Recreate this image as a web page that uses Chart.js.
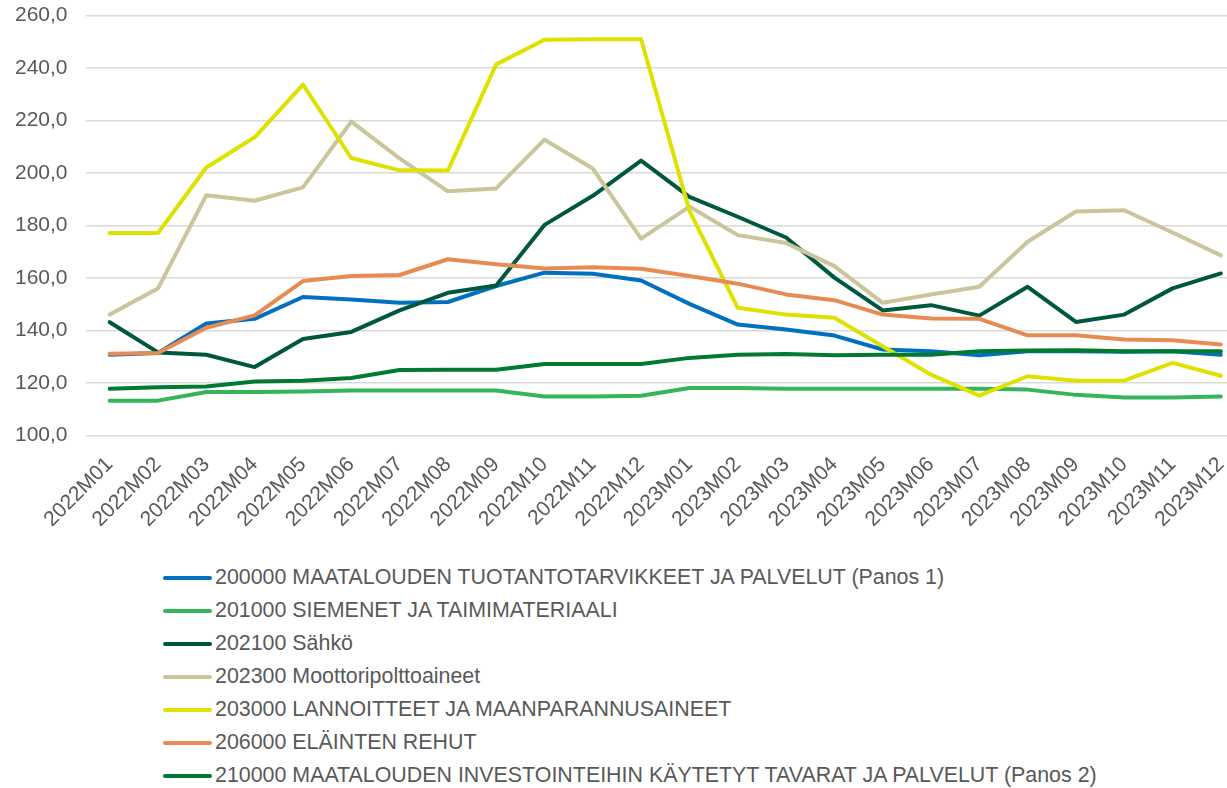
<!DOCTYPE html>
<html>
<head>
<meta charset="utf-8">
<script src="https://cdn.jsdelivr.net/npm/chart.js@4/dist/chart.umd.min.js"></script>
<style>
  html, body { margin: 0; padding: 0; background: #fff; overflow: hidden; width: 1227px; height: 788px; }
  #wrap { position: absolute; left: 0; top: -15px; width: 1250px; height: 556px; }
  #legend { position: absolute; left: 163px; top: 561px; font-family: 'Liberation Sans', Arial, sans-serif; font-size: 21.4px; color: #595959; }
  .row { display: flex; align-items: center; height: 33px; white-space: nowrap; }
  .swatch { width: 49px; height: 4px; border-radius: 2px; margin-right: 3px; }
</style>
</head>
<body>
<div id="wrap"><canvas id="chart" width="1250" height="556"></canvas></div>
<div id="legend"></div>
<script>
//// Data

const months = ['2022M01', '2022M02', '2022M03', '2022M04', '2022M05', '2022M06', '2022M07', '2022M08',
    '2022M09', '2022M10', '2022M11', '2022M12', '2023M01', '2023M02', '2023M03', '2023M04', '2023M05',
    '2023M06', '2023M07', '2023M08', '2023M09', '2023M10', '2023M11', '2023M12'];

const seriesNames = [
    '200000 MAATALOUDEN TUOTANTOTARVIKKEET JA PALVELUT (Panos 1)',
    '201000 SIEMENET JA TAIMIMATERIAALI',
    '202100 Sähkö',
    '202300 Moottoripolttoaineet',
    '203000 LANNOITTEET JA MAANPARANNUSAINEET',
    '206000 ELÄINTEN REHUT',
    '210000 MAATALOUDEN INVESTOINTEIHIN KÄYTETYT TAVARAT JA PALVELUT (Panos 2)'
];

const panos1 = [130.7, 131.4, 142.6, 144.4, 152.7, 151.8, 150.5, 150.8, 156.9, 162.0, 161.6, 159.0,
    150.1, 142.2, 140.3, 138.0, 132.7, 132.0, 130.5, 132.0, 132.0, 131.8, 132.0, 130.7];
const siemenet = [113.2, 113.2, 116.5, 116.5, 116.7, 117.1, 117.1, 117.1, 117.1, 114.8, 114.8, 115.1,
    118.0, 118.0, 117.7, 117.7, 117.7, 117.7, 117.7, 117.4, 115.4, 114.4, 114.4, 114.8];
const sahko = [143.1, 131.6, 130.7, 126.0, 136.7, 139.4, 147.6, 154.3, 157.1, 180.2, 191.3, 204.7,
    190.9, 183.3, 175.4, 160.1, 147.6, 149.6, 145.6, 156.6, 143.2, 146.0, 156.0, 161.7];
const moottori = [146.0, 156.0, 191.5, 189.4, 194.5, 219.6, 205.6, 193.0, 194.1, 212.7, 201.7, 175.0,
    187.2, 176.3, 173.3, 164.5, 150.5, 153.7, 156.6, 173.8, 185.3, 185.8, 177.3, 168.6];
const lannoitteet = [177.1, 177.1, 202.1, 213.6, 233.7, 205.7, 201.0, 200.9, 241.4, 250.8, 251.0, 251.0,
    185.6, 148.6, 146.0, 144.8, 133.9, 123.1, 115.1, 122.5, 120.8, 120.8, 127.6, 122.7];
const rehut = [131.1, 131.4, 141.0, 145.7, 158.8, 160.7, 161.1, 167.1, 165.2, 163.6, 164.1, 163.5,
    160.7, 157.8, 153.7, 151.5, 146.0, 144.5, 144.4, 138.1, 138.1, 136.5, 136.2, 134.6];
const panos2 = [117.7, 118.3, 118.6, 120.5, 120.8, 121.8, 124.9, 125.0, 125.0, 127.2, 127.2, 127.2,
    129.5, 130.7, 131.0, 130.5, 130.7, 130.7, 132.0, 132.3, 132.4, 132.0, 132.0, 132.0];

const seriesValues = [panos1, siemenet, sahko, moottori, lannoitteet, rehut, panos2];
const seriesColors = ['#0070C0', '#35B45A', '#00573F', '#CAC59A', '#DEE200', '#E88B52', '#007A30'];

const yMin = 100, yMax = 260, yStep = 20;

//// Chart

const textColor = '#595959';
const fontFamily = "'Liberation Sans', Arial, sans-serif";

const datasets = seriesNames.map((name, i) => ({
    label: name,
    data: seriesValues[i],
    borderColor: seriesColors[i],
    backgroundColor: seriesColors[i],
    borderWidth: 4,
    pointRadius: 0,
    tension: 0,
    borderJoinStyle: 'round',
    borderCapStyle: 'round',
    // later series are drawn on top, like the original
    order: seriesNames.length - i
}));

new Chart(document.getElementById('chart'), {
    type: 'line',
    data: { labels: months, datasets: datasets },
    options: {
        responsive: false,
        animation: false,
        layout: { padding: { top: 5, left: -3, right: 5, bottom: 0 } },
        plugins: {
            legend: { display: false },
            tooltip: { enabled: false }
        },
        scales: {
            x: {
                offset: true,
                grid: { display: false },
                border: { display: false },
                ticks: {
                    color: textColor,
                    font: { family: fontFamily, size: 21 },
                    minRotation: 45,
                    maxRotation: 45,
                    autoSkip: false,
                    padding: 9
                }
            },
            y: {
                min: yMin,
                max: yMax,
                grid: { color: '#D9D9D9', lineWidth: 1.5, drawTicks: false },
                border: { display: false },
                ticks: {
                    stepSize: yStep,
                    color: textColor,
                    font: { family: fontFamily, size: 21 },
                    padding: 18,
                    callback: v => v.toFixed(1).replace('.', ',')
                }
            }
        }
    }
});

// legend in one column, same order as the series
const legendBox = document.getElementById('legend');
seriesNames.forEach((name, i) => {
    const row = document.createElement('div');
    row.className = 'row';
    const sw = document.createElement('span');
    sw.className = 'swatch';
    sw.style.background = seriesColors[i];
    const txt = document.createElement('span');
    txt.textContent = name;
    row.appendChild(sw);
    row.appendChild(txt);
    legendBox.appendChild(row);
});
</script>
</body>
</html>
